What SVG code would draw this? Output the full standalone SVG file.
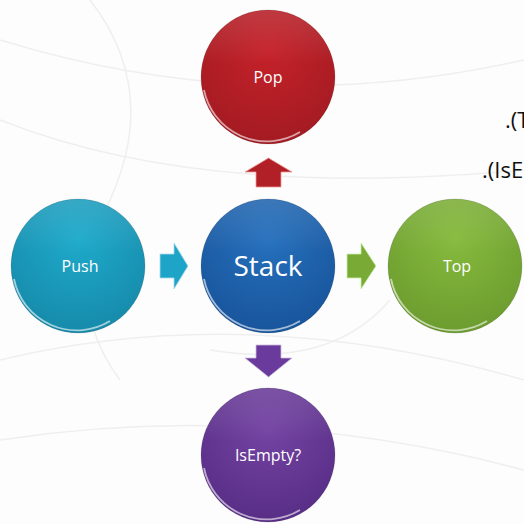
<svg xmlns="http://www.w3.org/2000/svg" width="524" height="524" viewBox="0 0 524 524">
<defs>
<radialGradient id="gRed" cx="50%" cy="30%" r="75%"><stop offset="0" stop-color="#c5222a"/><stop offset="1" stop-color="#a11a21"/></radialGradient>
<radialGradient id="gBlue" cx="50%" cy="30%" r="75%"><stop offset="0" stop-color="#2670bd"/><stop offset="1" stop-color="#175399"/></radialGradient>
<radialGradient id="gCyan" cx="50%" cy="30%" r="75%"><stop offset="0" stop-color="#1eaacb"/><stop offset="1" stop-color="#1688a8"/></radialGradient>
<radialGradient id="gGreen" cx="50%" cy="30%" r="75%"><stop offset="0" stop-color="#86ba3d"/><stop offset="1" stop-color="#6a9a2e"/></radialGradient>
<radialGradient id="gPurple" cx="50%" cy="30%" r="75%"><stop offset="0" stop-color="#7444a3"/><stop offset="1" stop-color="#562c84"/></radialGradient>
<linearGradient id="shine" x1="0" y1="0" x2="0" y2="1"><stop offset="0" stop-color="#fff" stop-opacity="0.12"/><stop offset="0.4" stop-color="#fff" stop-opacity="0"/></linearGradient>
</defs>
<style>
.rim{fill:none;stroke:#fff;stroke-opacity:0.6;stroke-width:1.8}
.edge{fill:none;stroke:#000;stroke-opacity:0.12;stroke-width:1}
.lbl{font-family:"Open Sans","Liberation Sans",sans-serif;fill:#fff;text-anchor:middle;dominant-baseline:central}
.side{font-family:"Open Sans","Liberation Sans",sans-serif;fill:#111;font-size:22px}
.bg{fill:none;stroke:#efefef;stroke-width:1.5}
</style>
<rect width="524" height="524" fill="#fdfdfd"/>
<g id="background">
<path class="bg" d="M0 40 Q260 120 524 60"/>
<path class="bg" d="M0 120 Q200 200 524 170"/>
<path class="bg" d="M0 360 Q250 300 524 380"/>
<path class="bg" d="M0 440 Q260 400 524 470"/>
<path class="bg" d="M90 0 Q160 90 110 200 Q60 300 120 380"/>
<path class="bg" d="M210 350 Q330 370 390 300"/>
</g>
<g id="connectors">
<path d="M256 187 L256 172 L245 172 L268.5 158 L292 172 L281 172 L281 187 Z" fill="#b11f27" stroke="#e99" stroke-width="0.8"/>
<path d="M256 345 L281 345 L281 358 L292 358 L268.5 377 L245 358 L256 358 Z" fill="#6a3a9c" stroke="#cbd" stroke-width="0.8"/>
<path d="M160 254 L174 254 L174 243 L188 266 L174 289 L174 278 L160 278 Z" fill="#1ea4c6" stroke="#ade" stroke-width="0.8"/>
<path d="M347 254 L361 254 L361 243 L376 266 L361 289 L361 278 L347 278 Z" fill="#78aa35" stroke="#cea" stroke-width="0.8"/>
</g>
<g id="pop">
<circle cx="268" cy="77" r="67" fill="url(#gRed)"/>
<circle cx="268" cy="77" r="67" fill="url(#shine)"/>
<circle class="edge" cx="268" cy="77" r="67"/>
<path class="rim" d="M204 90 A64 64 0 0 0 300 132"/>
<text class="lbl" x="268" y="77" font-size="16">Pop</text>
</g>
<g id="stack">
<circle cx="268" cy="266" r="67" fill="url(#gBlue)"/>
<circle cx="268" cy="266" r="67" fill="url(#shine)"/>
<circle class="edge" cx="268" cy="266" r="67"/>
<path class="rim" d="M204 279 A64 64 0 0 0 300 321"/>
<text class="lbl" x="268" y="265" font-size="28">Stack</text>
</g>
<g id="push">
<circle cx="78" cy="266" r="67" fill="url(#gCyan)"/>
<circle cx="78" cy="266" r="67" fill="url(#shine)"/>
<circle class="edge" cx="78" cy="266" r="67"/>
<path class="rim" d="M14 279 A64 64 0 0 0 110 321"/>
<text class="lbl" x="80" y="266" font-size="16">Push</text>
</g>
<g id="top">
<circle cx="455" cy="266" r="67" fill="url(#gGreen)"/>
<circle cx="455" cy="266" r="67" fill="url(#shine)"/>
<circle class="edge" cx="455" cy="266" r="67"/>
<path class="rim" d="M391 279 A64 64 0 0 0 487 321"/>
<text class="lbl" x="457" y="266" font-size="16">Top</text>
</g>
<g id="isempty">
<circle cx="268" cy="455" r="67" fill="url(#gPurple)"/>
<circle cx="268" cy="455" r="67" fill="url(#shine)"/>
<circle class="edge" cx="268" cy="455" r="67"/>
<path class="rim" d="M204 468 A64 64 0 0 0 300 510"/>
<text class="lbl" x="268" y="455" font-size="16">IsEmpty?</text>
</g>
<g id="side-text">
<text class="side" x="505" y="128">.(T</text>
<text class="side" x="482" y="178">.(IsE</text>
</g>
</svg>
